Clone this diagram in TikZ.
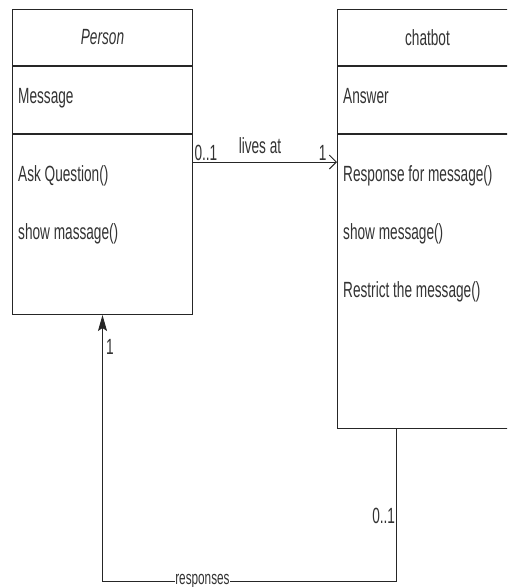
\documentclass[tikz,border=0pt]{standalone}
\usepackage{fontspec}
\setmainfont{Liberation Sans}[FakeStretch=0.62]
\usetikzlibrary{arrows.meta,positioning}

\begin{document}
\begin{tikzpicture}[x=1pt,y=-1pt,font=\fontsize{22}{26}\selectfont,
    umlbox/.style={draw=black!85,line width=1pt,minimum width=180pt,inner sep=0pt},
    member/.style={anchor=base west,inner sep=0pt,text=black!80},
    mult/.style={inner sep=1pt,text=black!80},
    assoc/.style={draw=black!85,line width=1pt}]
\useasboundingbox (0,0) rectangle (507,587);
\clip (0,0) rectangle (507,587);

% class Person
\node [umlbox,minimum height=56pt,anchor=north west] (personHead) at (12,9) {};
\node [umlbox,minimum height=67pt,below=0pt of personHead] (personAttr) {};
\node [umlbox,minimum height=180pt,below=0pt of personAttr] (personOps) {};
\node [mult] (personName) at (personHead) {\itshape Person};
\node [member] (personMsg) at (18,103) {Message};
\node [member] (personAsk) at (18,181) {Ask Question()};
\node [member] (personShow) at (18,239) {show massage()};

% class chatbot
\node [umlbox,minimum height=56pt,anchor=north west] (botHead) at (337,9) {};
\node [umlbox,minimum height=67pt,below=0pt of botHead] (botAttr) {};
\node [umlbox,minimum height=294pt,below=0pt of botAttr] (botOps) {};
\node [mult] (botName) at (botHead) {chatbot};
\node [member] (botAnswer) at (343,103) {Answer};
\node [member] (botResponse) at (343,181) {Response for message()};
\node [member] (botShow) at (343,239) {show message()};
\node [member] (botRestrict) at (343,297) {Restrict the message()};

% associations
\draw [assoc,-{Straight Barb[length=7pt,width=14pt]}]
    ([yshift=-28pt]personOps.north east)
    -- node [mult,pos=0,above right] (livesFrom) {0..1}
       node [mult,above=7pt,xshift=-5pt] (livesAt) {lives at}
       node [mult,pos=1,above left,xshift=-9pt] (livesTo) {1}
    ([yshift=-28pt]botOps.north west);
\draw [assoc,-{Stealth[length=16pt,width=9pt,inset=3pt]}]
    ([xshift=-31pt]botOps.south)
    -- node [mult,pos=0.57,left=0pt] (respFrom) {0..1}
    ++(0,152) coordinate (respCorner)
    -| node [mult,pos=0.33,fill=white,inner sep=0.5pt,
             font=\fontsize{19}{22}\selectfont] (respLabel) {responses}
       node [mult,pos=0.94,right=2pt] (respTo) {1}
    (personOps.south);
\end{tikzpicture}
\end{document}
